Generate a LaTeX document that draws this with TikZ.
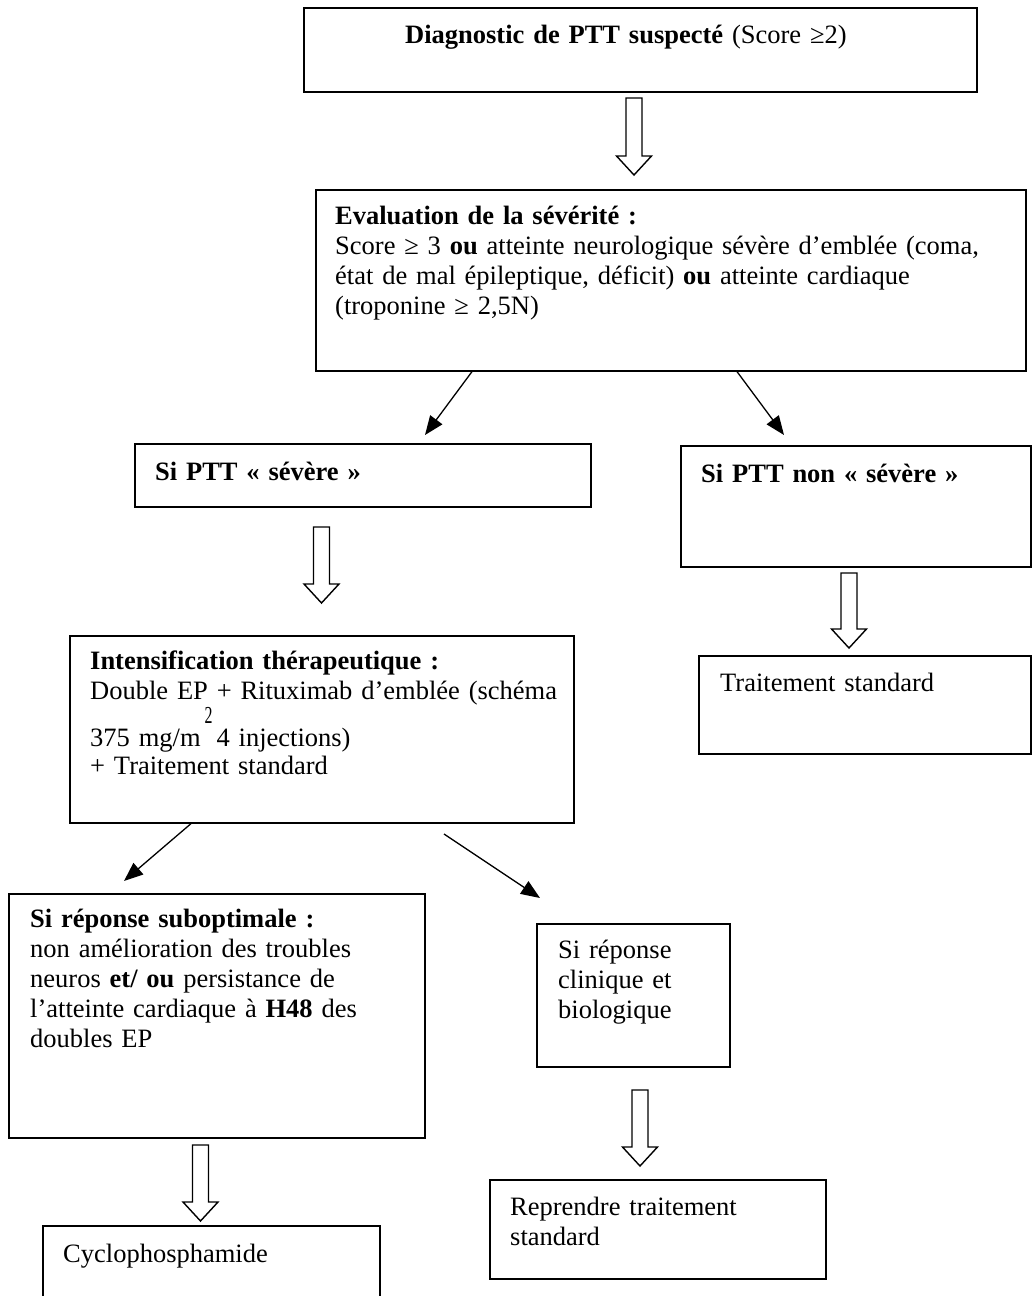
\documentclass[tikz,border=0pt]{standalone}
\usepackage{fontspec}
\setmainfont{Liberation Serif}
\usetikzlibrary{arrows.meta,calc}
\newcommand{\fatarrow}[2]{%
  \draw[fatarrowstyle] ($(#1)+(-8,0)$) -- ($(#2)+(-8,-19)$) -- ($(#2)+(-17.5,-19)$) -- (#2)
    -- ($(#2)+(17.5,-19)$) -- ($(#2)+(8,-19)$) -- ($(#1)+(8,0)$) -- cycle;}
\begin{document}
\begin{tikzpicture}[x=1pt,y=-1pt,
  box/.style={draw=black,line width=1.6pt,rectangle,anchor=north west,inner sep=0pt},
  txt/.style={anchor=base west,inner sep=0pt,align=left,text width=900pt,
     font=\fontsize{26.5}{30}\selectfont},
  conn/.style={draw=black,line width=1.3pt,-{Triangle[length=19pt,width=15pt]}},
  fatarrowstyle/.style={draw=black,line width=1.4pt,fill=white,line join=miter}]
\useasboundingbox (0,0) rectangle (1032,1296);

% boxes
\node[box,minimum width=673pt,minimum height=84pt] (b1) at (303,7) {};
\node[box,minimum width=710pt,minimum height=181pt] (b2) at (315,189) {};
\node[box,minimum width=456pt,minimum height=63pt] (b3) at (134,443) {};
\node[box,minimum width=350pt,minimum height=121pt] (b4) at (680,445) {};
\node[box,minimum width=332pt,minimum height=98pt] (b5) at (698,655) {};
\node[box,minimum width=504pt,minimum height=187pt] (b6) at (69,635) {};
\node[box,minimum width=416pt,minimum height=244pt] (b7) at (8,893) {};
\node[box,minimum width=193pt,minimum height=143pt] (b8) at (536,923) {};
\node[box,minimum width=337pt,minimum height=90pt] (b9) at (42,1225) {};
\node[box,minimum width=336pt,minimum height=99pt] (b10) at (489,1179) {};

% texts
\node[txt] (t1) at (405,43) {\textbf{Diagnostic de PTT suspecté} (Score ≥2)};
\node[txt] (t2) at (335,224) {\textbf{Evaluation de la sévérité :}\\
Score ≥ 3 \textbf{ou} atteinte neurologique sévère d’emblée (coma,\\
état de mal épileptique, déficit) \textbf{ou} atteinte cardiaque\\
(troponine ≥ 2,5N)};
\node[txt] (t3) at (155,480) {\textbf{Si PTT « sévère »}};
\node[txt] (t4) at (701,482) {\textbf{Si PTT non « sévère »}};
\node[txt] (t5) at (720,691) {Traitement standard};
\node[txt] (t6) at (90,669) {\textbf{Intensification thérapeutique :}\\
Double EP + Rituximab d’emblée (schéma\\[17pt]
375 mg/m\hspace{4pt}\smash{\raisebox{23pt}{\scalebox{0.6}[0.92]{2}}}\hspace{4pt}4 injections)\\[-2pt]
+ Traitement standard};
\node[txt] (t7) at (30,927) {\textbf{Si réponse suboptimale :}\\
non amélioration des troubles\\
neuros \textbf{et/ ou} persistance de\\
l’atteinte cardiaque à \textbf{H48} des\\
doubles EP};
\node[txt] (t8) at (558,958) {Si réponse\\clinique et\\biologique};
\node[txt] (t9) at (63,1262) {Cyclophosphamide};
\node[txt] (t10) at (510,1215) {Reprendre traitement\\standard};

% thin connectors
\coordinate (c1) at (425,435);
\coordinate (c2) at (784,435);
\coordinate (c3) at (124,881);
\coordinate (c4s) at (444,834);
\coordinate (c4) at (540,898);
\draw[conn] (b2.south west) ++(157,0) -- (c1);
\draw[conn] (b2.south west) ++(422,0) -- (c2);
\draw[conn] (b6.south west) ++(122,0) -- (c3);
\draw[conn] (c4s) -- (c4);

% hollow arrows
\coordinate (h1s) at (634,98);   \coordinate (h1e) at (634,175);
\coordinate (h2s) at (321.5,527); \coordinate (h2e) at (321.5,603);
\coordinate (h3s) at (849,573);  \coordinate (h3e) at (849,648);
\coordinate (h4s) at (200.5,1145); \coordinate (h4e) at (200.5,1221);
\coordinate (h5s) at (640,1090); \coordinate (h5e) at (640,1166);
\fatarrow{h1s}{h1e}
\fatarrow{h2s}{h2e}
\fatarrow{h3s}{h3e}
\fatarrow{h4s}{h4e}
\fatarrow{h5s}{h5e}
\end{tikzpicture}
\end{document}
